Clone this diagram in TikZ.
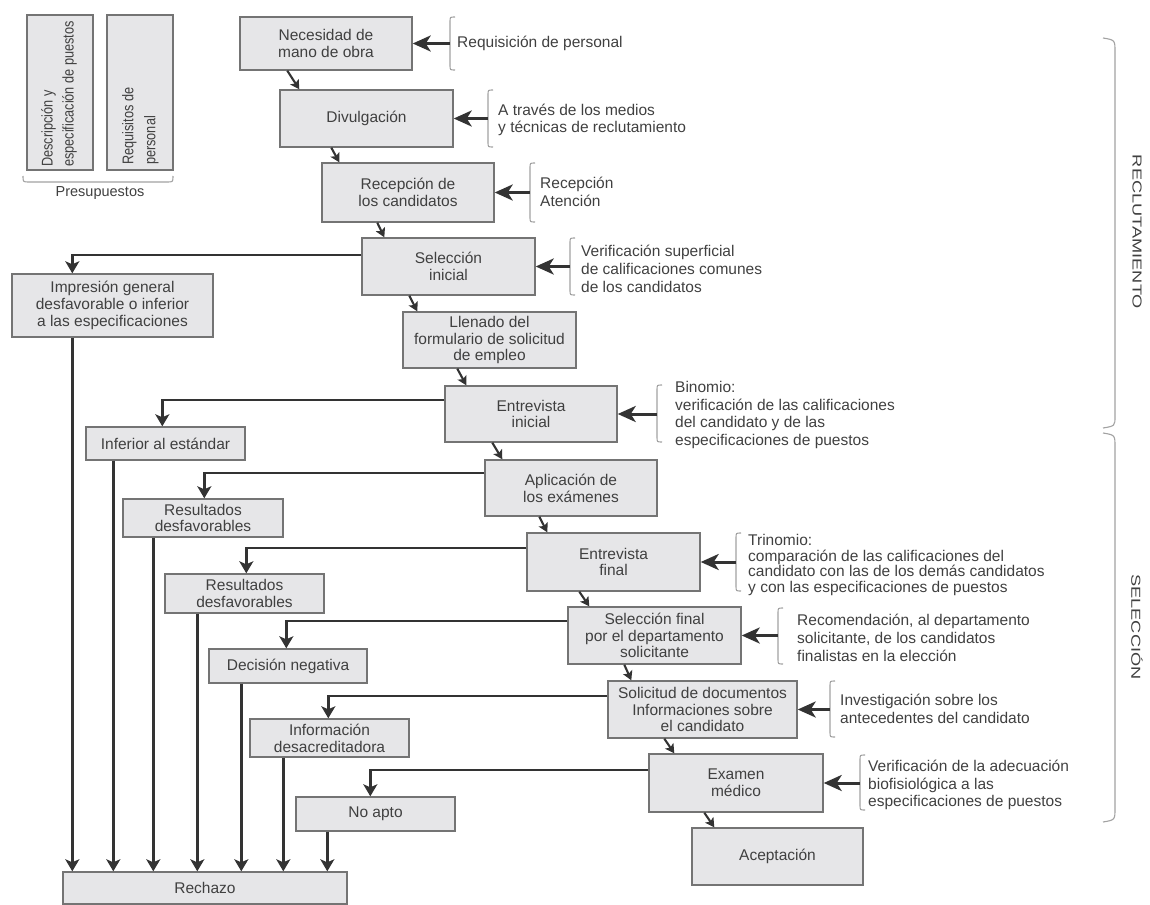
\documentclass[tikz,border=0pt]{standalone}
\usepackage{fontspec}
\setmainfont{Liberation Sans}
\usepackage{graphicx}
\usetikzlibrary{arrows.meta}
\definecolor{boxfill}{HTML}{E6E6E8}
\definecolor{boxdraw}{HTML}{747474}
\definecolor{txt}{HTML}{404040}
\definecolor{arr}{HTML}{333333}
\definecolor{brkcol}{HTML}{A2A2A2}
\newcommand\notebrk[3]{\draw[brkline] (#1+5,#2) .. controls (#1,#2) .. (#1,#2+5) -- (#1,#3-5) .. controls (#1,#3) .. (#1+5,#3);}
\begin{document}
\begin{tikzpicture}[x=1pt,y=-1pt,
  box/.style={draw=boxdraw, fill=boxfill, line width=1.4pt, inner sep=0pt, align=center, text=txt, font=\fontsize{15.5}{16.8}\selectfont},
  note/.style={anchor=west, align=left, inner sep=0pt, text=txt, font=\fontsize{15.5}{17.8}\selectfont},
  brkline/.style={draw=brkcol, line width=1.1pt},
  flow/.style={draw=arr, line width=2.1pt, -{Stealth[length=9pt,width=10pt,inset=2pt]}},
  side/.style={draw=arr, line width=3pt, -{Stealth[length=18pt,width=16pt,inset=5pt]}},
  rej/.style={draw=arr, line width=2.4pt, -{Stealth[length=12pt,width=14pt,inset=3pt]}},
  rejline/.style={draw=arr, line width=2.3pt}
]
\useasboundingbox (0,0) rectangle (1150,904);

% ---------- Presupuestos ----------
\node[box, minimum width=66pt, minimum height=155pt] (pb1) at (60,92.5) {};
\node[box, minimum width=66pt, minimum height=155pt] (pb2) at (140,92.5) {};
\node[rotate=90, anchor=west, inner sep=0pt, text=txt, align=left, font=\fontsize{15.5}{21}\selectfont] (pt1) at (59,167)
  {\scalebox{0.82}[1]{\begin{tabular}{@{}l@{}}Descripción y\\especificación de puestos\end{tabular}}};
\node[rotate=90, anchor=west, inner sep=0pt, text=txt, align=left, font=\fontsize{15.5}{22}\selectfont] (pt2) at (140,165)
  {\scalebox{0.82}[1]{\begin{tabular}{@{}l@{}}Requisitos de\\personal\end{tabular}}};
\draw[brkline] (23,176) .. controls (23,182) .. (29,182) -- (167,182) .. controls (173,182) .. (173,176);
\node[inner sep=0pt, text=txt, font=\fontsize{14.5}{16}\selectfont] (presu) at (100,193) {Presupuestos};

% ---------- main column ----------
\node[box, minimum width=172pt, minimum height=53pt] (nec) at (326,43.5) {Necesidad de\\mano de obra};
\node[box, minimum width=173pt, minimum height=57pt] (div) at (366.5,118.5) {Divulgación};
\node[box, minimum width=172pt, minimum height=59pt] (rec) at (408,192.5) {Recepción de\\los candidatos};
\node[box, minimum width=173pt, minimum height=57pt] (sel) at (448.5,266.5) {Selección\\inicial};
\node[box, minimum width=173pt, minimum height=56pt] (lle) at (489.5,340) {Llenado del\\formulario de solicitud\\de empleo};
\node[box, minimum width=172pt, minimum height=56pt] (ent) at (531,414) {Entrevista\\inicial};
\node[box, minimum width=172pt, minimum height=56pt] (apl) at (571,488) {Aplicación de\\los exámenes};
\node[box, minimum width=173pt, minimum height=58pt] (entf) at (613.5,562) {Entrevista\\final};
\node[box, minimum width=173pt, minimum height=57pt] (self) at (654.5,635.5) {Selección final\\por el departamento\\solicitante};
\node[box, minimum width=189pt, minimum height=57pt] (sol) at (702.5,709.5) {Solicitud de documentos\\Informaciones sobre\\el candidato};
\node[box, minimum width=174pt, minimum height=58pt] (exa) at (736,783) {Examen\\médico};
\node[box, minimum width=171pt, minimum height=57pt] (ace) at (777.5,856.5) {Aceptación};

% ---------- rejection boxes ----------
\node[box, minimum width=201pt, minimum height=63pt] (imp) at (112.5,305.5) {Impresión general\\desfavorable o inferior\\a las especificaciones};
\node[box, minimum width=159pt, minimum height=33pt] (inf) at (165.5,443.5) {Inferior al estándar};
\node[box, minimum width=160pt, minimum height=38pt] (res1) at (203,518) {Resultados\\desfavorables};
\node[box, minimum width=159pt, minimum height=39pt] (res2) at (244.5,593.5) {Resultados\\desfavorables};
\node[box, minimum width=158pt, minimum height=34pt] (dec) at (288,666) {Decisión negativa};
\node[box, minimum width=159pt, minimum height=38pt] (inform) at (329.5,738) {Información\\desacreditadora};
\node[box, minimum width=159pt, minimum height=34pt] (noapto) at (375.5,814) {No apto};
\node[box, minimum width=284pt, minimum height=32pt] (rech) at (205,888) {Rechazo};

% ---------- flow arrows ----------
\draw[flow] ([xshift=48pt]nec.south west) -- ([xshift=20pt]div.north west);
\draw[flow] ([xshift=52pt]div.south west) -- ([xshift=18pt]rec.north west);
\draw[flow] ([xshift=56pt]rec.south west) -- ([xshift=23pt]sel.north west);
\draw[flow] ([xshift=48pt]sel.south west) -- ([xshift=15pt]lle.north west);
\draw[flow] ([xshift=55pt]lle.south west) -- ([xshift=22pt]ent.north west);
\draw[flow] ([xshift=48pt]ent.south west) -- ([xshift=18pt]apl.north west);
\draw[flow] ([xshift=55pt]apl.south west) -- ([xshift=21pt]entf.north west);
\draw[flow] ([xshift=53pt]entf.south west) -- ([xshift=22pt]self.north west);
\draw[flow] ([xshift=57pt]self.south west) -- ([xshift=24pt]sol.north west);
\draw[flow] ([xshift=57pt]sol.south west) -- ([xshift=26pt]exa.north west);
\draw[flow] ([xshift=56pt]exa.south west) -- ([xshift=23pt]ace.north west);

% ---------- rejection arrows ----------
\draw[rej] ([yshift=11.5pt]sel.west) -| ([xshift=61pt]imp.north west);
\draw[rej] ([yshift=14pt]ent.west) -| ([xshift=77pt]inf.north west);
\draw[rej] ([yshift=15pt]apl.west) -| ([xshift=82pt]res1.north west);
\draw[rej] ([yshift=14pt]entf.west) -| ([xshift=82pt]res2.north west);
\draw[rej] ([yshift=14.5pt]self.west) -| ([xshift=78pt]dec.north west);
\draw[rej] ([yshift=13.5pt]sol.west) -| ([xshift=79pt]inform.north west);
\draw[rej] ([yshift=13pt]exa.west) -| ([xshift=75pt]noapto.north west);

\draw[rej] ([xshift=61pt]imp.south west) -- ([xshift=61pt]imp.south west |- rech.north);
\draw[rej] ([xshift=28pt]inf.south west) -- ([xshift=28pt]inf.south west |- rech.north);
\draw[rej] ([xshift=31pt]res1.south west) -- ([xshift=31pt]res1.south west |- rech.north);
\draw[rej] ([xshift=33pt]res2.south west) -- ([xshift=33pt]res2.south west |- rech.north);
\draw[rej] ([xshift=33pt]dec.south west) -- ([xshift=33pt]dec.south west |- rech.north);
\draw[rej] ([xshift=34pt]inform.south west) -- ([xshift=34pt]inform.south west |- rech.north);
\draw[rej] ([xshift=32pt]noapto.south west) -- ([xshift=32pt]noapto.south west |- rech.north);

% ---------- notes ----------
\notebrk{450}{17}{70}
\coordinate (b1) at (450,43.5);
\draw[side] (b1) -- (nec.east);
\node[note] (n1) at (457,43.5) {Requisición de personal};

\notebrk{488}{90}{147}
\coordinate (b2) at (488,118.5);
\draw[side] (b2) -- (div.east);
\node[note] (n2) at (498,120) {A través de los medios\\y técnicas de reclutamiento};

\notebrk{530}{163}{222}
\coordinate (b3) at (530,192.5);
\draw[side] (b3) -- (rec.east);
\node[note] (n3) at (540,192) {Recepción\\Atención};

\notebrk{570}{238}{295}
\coordinate (b4) at (570,266.5);
\draw[side] (b4) -- (sel.east);
\node[note] (n4) at (581,269) {Verificación superficial\\de calificaciones comunes\\de los candidatos};

\notebrk{657}{385}{442}
\coordinate (b5) at (657,414);
\draw[side] (b5) -- (ent.east);
\node[note] (n5) at (675,415) {Binomio:\\verificación de las calificaciones\\del candidato y de las\\especificaciones de puestos};

\notebrk{736}{533}{591}
\coordinate (b6) at (736,562);
\draw[side] (b6) -- (entf.east);
\node[note, font=\fontsize{15.5}{15.6}\selectfont] (n6) at (748,565) {Trinomio:\\comparación de las calificaciones del\\candidato con las de los demás candidatos\\y con las especificaciones de puestos};

\notebrk{778}{608}{664}
\coordinate (b7) at (778,635.5);
\draw[side] (b7) -- (self.east);
\node[note] (n7) at (797,638) {Recomendación, al departamento\\solicitante, de los candidatos\\finalistas en la elección};

\notebrk{830}{681}{737}
\coordinate (b8) at (830,709.5);
\draw[side] (b8) -- (sol.east);
\node[note] (n8) at (840,709) {Investigación sobre los\\antecedentes del candidato};

\notebrk{860}{755}{810}
\coordinate (b9) at (860,783);
\draw[side] (b9) -- (exa.east);
\node[note] (n9) at (868,785) {Verificación de la adecuación\\biofisiológica a las\\especificaciones de puestos};

% ---------- phase braces ----------
\draw[brkline] (1103,38) .. controls (1115,40) .. (1115,52) -- (1115,416) .. controls (1115,426) .. (1103,428);
\draw[brkline] (1103,433) .. controls (1115,435) .. (1115,447) -- (1115,808) .. controls (1115,820) .. (1103,822);
\node[rotate=-90, inner sep=0pt, text=txt, font=\fontsize{13}{16}\selectfont] (lrec) at (1137,232) {\scalebox{1.4}[1]{RECLUTAMIENTO}};
\node[rotate=-90, inner sep=0pt, text=txt, font=\fontsize{13}{16}\selectfont] (lsel) at (1137,627) {\scalebox{1.4}[1]{SELECCIÓN}};
\end{tikzpicture}
\end{document}
